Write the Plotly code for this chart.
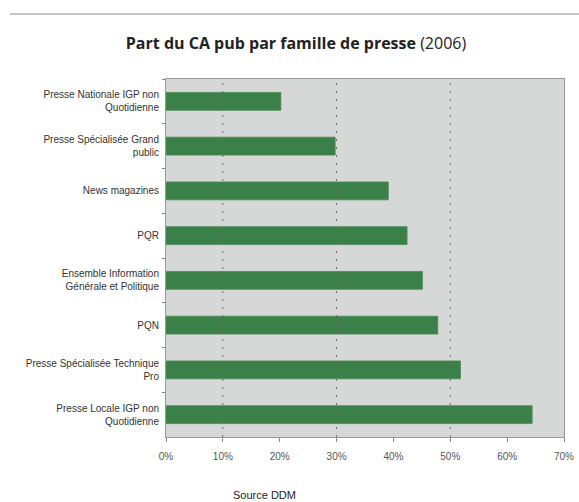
import plotly.graph_objects as go

categories = [
    "Presse Nationale IGP non<br>Quotidienne",
    "Presse Spécialisée Grand<br>public",
    "News magazines",
    "PQR",
    "Ensemble Information<br>Générale et Politique",
    "PQN",
    "Presse Spécialisée Technique<br>Pro",
    "Presse Locale IGP non<br>Quotidienne",
]
values = [20.2, 29.75, 39.1, 42.4, 45.1, 47.8, 51.8, 64.4]
x_ticks = [0, 10, 20, 30, 40, 50, 60, 70]
x_tick_labels = [f"{v}%" for v in x_ticks]
grid_values = [10, 30, 50]

W, H = 579, 502
L, R, T, B = 166, 15, 79, 65

fig = go.Figure()
fig.add_trace(go.Bar(
    y=categories, x=values, orientation="h",
    marker=dict(color="#3a8048", line=dict(color="#4a8a58", width=0.8)),
    width=0.4,
    hoverinfo="x+y",
))

shapes = []
for g in grid_values:
    shapes.append(dict(type="line", xref="x", yref="paper", x0=g, x1=g, y0=0, y1=1,
                       line=dict(color="#707070", width=1, dash="2px,6px"), layer="above"))
shapes.append(dict(type="line", xref="paper", yref="paper",
                   x0=-(L - 10) / (W - L - R), x1=(W - L) / (W - L - R),
                   y0=1 + (T - 14) / (H - T - B), y1=1 + (T - 14) / (H - T - B),
                   line=dict(color="#c4c4c4", width=2)))

fig.update_layout(
    width=W, height=H,
    margin=dict(l=L, r=R, t=T, b=B),
    paper_bgcolor="white",
    plot_bgcolor="#d5d8d7",
    showlegend=False,
    bargap=0.6,
    font=dict(family="Liberation Sans", size=10, color="#333333"),
    title=dict(
        text="<b>Part du CA pub par famille de presse</b> (2006)",
        x=296 / W, xref="container", xanchor="center",
        y=1 - 43 / H, yref="container", yanchor="middle",
        font=dict(family="Open Sans", size=16, color="#222222"),
    ),
    shapes=shapes,
    annotations=[dict(text="Source DDM", xref="paper", yref="paper",
                      x=(264 - L) / (W - L - R), y=-(495 - (H - B)) / (H - T - B),
                      xanchor="center", yanchor="middle", showarrow=False,
                      font=dict(family="Liberation Sans", size=11, color="#222222"))],
)
fig.update_xaxes(
    range=[0, 70], tickvals=x_ticks, ticktext=x_tick_labels,
    showgrid=False, zeroline=False, automargin=False,
    showline=True, linecolor="#999999", linewidth=1, mirror=True,
    ticks="outside", ticklen=4, tickcolor="#888888",
    tickfont=dict(color="#555555", size=10),
    ticklabelstandoff=6,
)
fig.update_yaxes(
    autorange="reversed", categoryorder="array", categoryarray=categories,
    showgrid=False, zeroline=False, automargin=False,
    showline=True, linecolor="#999999", linewidth=1, mirror=True,
    ticks="outside", ticklen=3, tickcolor="#888888", tickson="boundaries",
    tickfont=dict(color="#333333", size=10),
    ticklabelstandoff=4,
)

fig.write_html(
    "out.html",
    config={"displayModeBar": False},
    post_script="document.body.style.margin='0';document.body.style.overflow='hidden';",
)
